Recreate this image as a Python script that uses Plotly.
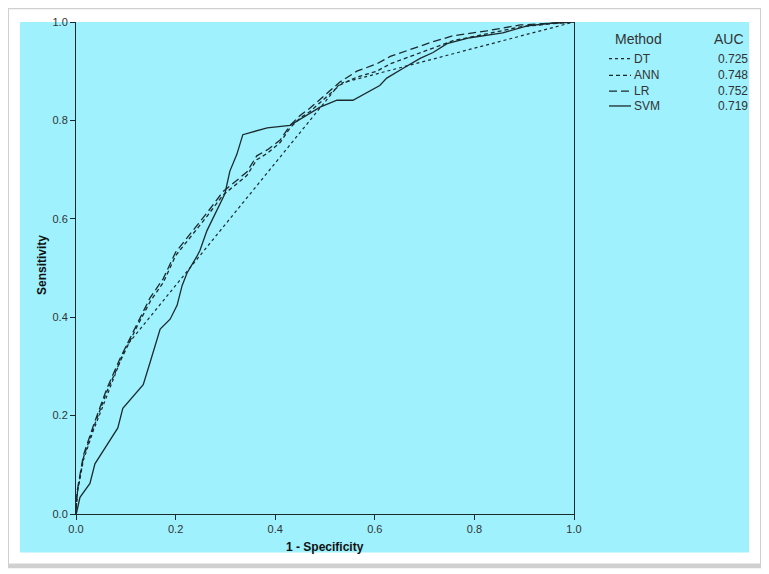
import plotly.graph_objects as go

# ---- data ----
methods = ["DT", "ANN", "LR", "SVM"]
auc_values = ["0.725", "0.748", "0.752", "0.719"]

dt_x = [0, 0.003, 0.015, 0.035, 0.062, 0.10, 0.53, 1.0]
dt_y = [0, 0.045, 0.110, 0.170, 0.240, 0.340, 0.875, 1.0]

ann_x = [0, 0.002, 0.015, 0.035, 0.062, 0.088, 0.122, 0.149, 0.175, 0.200, 0.263, 0.295,
         0.343, 0.363, 0.384, 0.410, 0.430, 0.450, 0.470, 0.504, 0.530, 0.564, 0.604,
         0.631, 0.665, 0.711, 0.757, 0.825, 0.892, 0.950, 1.0]
ann_y = [0, 0.040, 0.115, 0.175, 0.249, 0.309, 0.380, 0.432, 0.470, 0.525, 0.605, 0.648,
         0.688, 0.720, 0.733, 0.755, 0.785, 0.805, 0.818, 0.848, 0.872, 0.888, 0.900,
         0.915, 0.928, 0.945, 0.962, 0.976, 0.990, 0.996, 1.0]

lr_x = [0, 0.002, 0.015, 0.035, 0.062, 0.088, 0.122, 0.149, 0.175, 0.200, 0.263, 0.295,
        0.343, 0.363, 0.384, 0.410, 0.430, 0.450, 0.470, 0.504, 0.530, 0.564, 0.604,
        0.631, 0.665, 0.711, 0.757, 0.825, 0.892, 0.950, 1.0]
lr_y = [0, 0.045, 0.120, 0.180, 0.255, 0.315, 0.385, 0.440, 0.478, 0.532, 0.612, 0.655,
        0.695, 0.728, 0.740, 0.760, 0.790, 0.810, 0.825, 0.855, 0.878, 0.900, 0.915,
        0.930, 0.942, 0.958, 0.972, 0.982, 0.994, 0.998, 1.0]

svm_x = [0, 0.001, 0.008, 0.028, 0.038, 0.068, 0.084, 0.094, 0.135, 0.149, 0.169, 0.189,
         0.203, 0.213, 0.223, 0.243, 0.249, 0.263, 0.289, 0.299, 0.309, 0.323, 0.335,
         0.349, 0.384, 0.430, 0.490, 0.524, 0.556, 0.610, 0.624, 0.657, 0.691, 0.717,
         0.745, 0.791, 0.857, 0.906, 0.958, 1.0]
svm_y = [0, 0.002, 0.034, 0.062, 0.102, 0.149, 0.175, 0.215, 0.263, 0.309, 0.376, 0.396,
         0.424, 0.464, 0.490, 0.524, 0.536, 0.576, 0.630, 0.651, 0.697, 0.731, 0.771,
         0.775, 0.785, 0.790, 0.827, 0.841, 0.841, 0.871, 0.886, 0.906, 0.926, 0.938,
         0.956, 0.968, 0.978, 0.992, 0.998, 1.0]

tick_vals = [0.0, 0.2, 0.4, 0.6, 0.8, 1.0]
tick_text = ["0.0", "0.2", "0.4", "0.6", "0.8", "1.0"]

# ---- layout geometry (page body has an 8px default margin) ----
OFF = 8
W, H = 769 - OFF, 574 - OFF
PL, PR, PT, PB = 76, 574, 16, 514          # plot area in page pixels
L, T = PL - OFF, PT - OFF
R, B = W - (PR - OFF), H - (PB - OFF)
PW, PH = PR - PL, PB - PT


def px(x):
    return (x - PL) / PW


def py(y):
    return (PB - y) / PH


LINE = "#1c2a2e"
CYAN = "#9ef1fd"
FONT = "Arial, Liberation Sans, sans-serif"

styles = {
    "DT": dict(dash="dot", width=1.2),
    "ANN": dict(dash="4px,3px", width=1.3),
    "LR": dict(dash="8px,4px", width=1.3),
    "SVM": dict(dash="solid", width=1.3),
}

fig = go.Figure()
for name, xs, ys in [("DT", dt_x, dt_y), ("ANN", ann_x, ann_y), ("LR", lr_x, lr_y), ("SVM", svm_x, svm_y)]:
    fig.add_trace(go.Scatter(x=xs, y=ys, mode="lines", name=name, showlegend=False,
                             line=dict(color=LINE, **styles[name])))

shapes = [
    # drop shadow and white page
    dict(type="rect", xref="paper", yref="paper", x0=px(4), x1=px(763), y0=py(569), y1=py(0),
         fillcolor="#d0d0d0", line=dict(width=0), layer="below"),
    dict(type="rect", xref="paper", yref="paper", x0=px(9), x1=px(760), y0=py(564), y1=py(3),
         fillcolor="white", line=dict(width=0), layer="below"),
    # cyan panel
    dict(type="rect", xref="paper", yref="paper", x0=px(20), x1=px(749), y0=py(553), y1=py(16),
         fillcolor=CYAN, line=dict(width=0), layer="below"),
]

annotations = [
    dict(text="Method", x=px(638), y=py(33), xref="paper", yref="paper", showarrow=False,
         font=dict(family=FONT, size=14, color="#333333"), xanchor="center", yanchor="middle"),
    dict(text="AUC", x=px(729), y=py(33), xref="paper", yref="paper", showarrow=False,
         font=dict(family=FONT, size=14, color="#333333"), xanchor="center", yanchor="middle"),
]
entry_y = [53, 70, 86, 101]
for name, auc, yy in zip(methods, auc_values, entry_y):
    shapes.append(dict(type="line", xref="paper", yref="paper", x0=px(609), x1=px(631),
                       y0=py(yy), y1=py(yy), line=dict(color=LINE, **styles[name])))
    annotations.append(dict(text=name, x=px(632), y=py(yy), xref="paper", yref="paper",
                            showarrow=False, xanchor="left", yanchor="middle",
                            font=dict(family=FONT, size=12, color="#333333")))
    annotations.append(dict(text=auc, x=px(750), y=py(yy), xref="paper", yref="paper",
                            showarrow=False, xanchor="right", yanchor="middle",
                            font=dict(family=FONT, size=12, color="#333333")))

annotations.append(dict(text="<b>1 - Specificity</b>", x=px(325), y=py(547), xref="paper", yref="paper",
                        showarrow=False, xanchor="center", yanchor="middle",
                        font=dict(family=FONT, size=12, color="#111111")))
annotations.append(dict(text="<b>Sensitivity</b>", x=px(42), y=py(262), xref="paper", yref="paper",
                        showarrow=False, xanchor="center", yanchor="middle", textangle=-90,
                        font=dict(family=FONT, size=12, color="#111111")))

fig.update_layout(
    width=W, height=H,
    margin=dict(l=L, r=R, t=T, b=B),
    paper_bgcolor="white",
    plot_bgcolor=CYAN,
    shapes=shapes,
    annotations=annotations,
    font=dict(family=FONT, size=11, color="#333333"),
)
fig.update_xaxes(range=[0, 1], tickvals=tick_vals, ticktext=tick_text, showgrid=False, zeroline=False,
                 showline=True, linecolor=LINE, linewidth=1, ticks="outside", ticklen=5,
                 tickcolor=LINE, tickfont=dict(family=FONT, size=11, color="#333333"))
fig.update_yaxes(range=[0, 1], tickvals=tick_vals, ticktext=tick_text, showgrid=False, zeroline=False,
                 showline=True, linecolor=LINE, linewidth=1, mirror=True, ticks="outside", ticklen=5,
                 tickcolor=LINE, tickfont=dict(family=FONT, size=11, color="#333333"))

fig.write_html("out.html")
